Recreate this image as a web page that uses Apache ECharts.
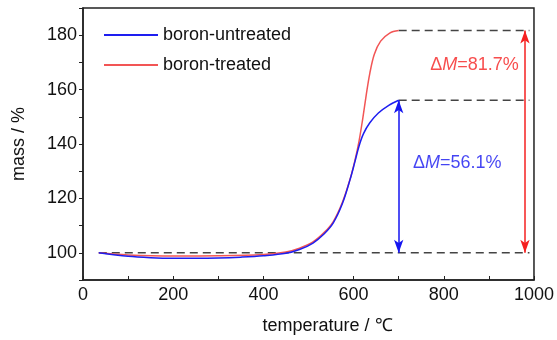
<!DOCTYPE html>
<html>
<head>
<meta charset="utf-8">
<script src="https://cdn.jsdelivr.net/npm/echarts@6/dist/echarts.min.js"></script>
<style>
  html, body { margin: 0; padding: 0; background: #fff; }
  #main { width: 557px; height: 340px; }
</style>
</head>
<body>
<div id="main"></div>
<script>
const untreatedT = [35, 100, 150, 200, 250, 300, 350, 400, 450, 480, 510, 535, 555, 575, 592, 603, 612, 622, 636, 655, 678, 700]
const untreatedM = [100, 98.7, 98.2, 98, 98, 98.1, 98.4, 98.9, 99.8, 101.2, 103.6, 107, 111, 118, 126.8, 133.5, 139.2, 143.8, 147.8, 151.4, 154.2, 156.1]
const treatedT = [35, 100, 200, 300, 400, 450, 480, 510, 535, 555, 575, 592, 603, 612, 620, 628, 636, 646, 660, 680, 700]
const treatedM = [100, 99.2, 98.8, 98.9, 99.4, 100.3, 101.7, 104, 107.5, 111.5, 118.5, 127, 134, 141, 149, 158, 166, 173, 177.8, 180.8, 181.7]

// dashed reference levels: [from T, to T, mass]
const dashLevels = [[35, 990, 100], [700, 990, 156.1], [700, 990, 181.7]]
// double arrows: [T, from mass, to mass]
const arrows = [[700, 100, 156.1, '#1515f0'], [980, 100, 181.7, '#f52020']]
// delta labels: [T, mass, value text]
const deltaLabels = [[830, 133, '56.1%', '#1515f0'], [868, 169, '81.7%', '#f52020']]

const BLUE = '#1e1ef0'
const RED = '#f25555'
const FONT = 'Liberation Sans'

const zip = (a, b) => a.map((v, i) => [v, b[i]])

const chart = echarts.init(document.getElementById('main'))

const option = {
  backgroundColor: '#fff',
  animation: false,
  textStyle: { fontFamily: FONT },
  grid: { left: 83, right: 20, top: 8, bottom: 60, show: true, borderColor: '#222', borderWidth: 1.5 },
  legend: {
    data: ['boron-untreated', 'boron-treated'],
    orient: 'vertical',
    left: 99,
    top: 21,
    icon: 'rect',
    itemWidth: 54,
    itemHeight: 2,
    itemGap: 12,
    textStyle: { fontSize: 18, color: '#111', fontFamily: FONT }
  },
  xAxis: {
    type: 'value',
    min: 0,
    max: 1000,
    interval: 200,
    name: 'temperature / ℃',
    nameLocation: 'middle',
    nameGap: 37,
    nameTextStyle: { fontSize: 18, color: '#111', padding: [0, 0, 0, 38] },
    axisLine: { lineStyle: { color: '#222', width: 1.5 } },
    axisTick: { inside: true, length: 4, lineStyle: { color: '#222' } },
    minorTick: { show: true, splitNumber: 2, length: 4, lineStyle: { color: '#222' } },
    axisLabel: { fontSize: 18, color: '#111', margin: 6, formatter: v => String(v) },
    splitLine: { show: false }
  },
  yAxis: {
    type: 'value',
    min: 90,
    max: 190,
    interval: 10,
    name: 'mass / %',
    nameLocation: 'middle',
    nameGap: 55,
    nameTextStyle: { fontSize: 18, color: '#111' },
    axisLine: { lineStyle: { color: '#222', width: 1.5 } },
    axisTick: { length: 4, lineStyle: { color: '#222' } },
    axisLabel: {
      fontSize: 18, color: '#111', margin: 6,
      formatter: v => (v >= 100 && v <= 180 && v % 20 === 0) ? String(v) : ''
    },
    splitLine: { show: false }
  },
  series: [
    ...dashLevels.map(d => ({
      type: 'line',
      data: [[d[0], d[2]], [d[1], d[2]]],
      symbol: 'none',
      silent: true,
      z: 1,
      lineStyle: { color: '#444', width: 1.5, type: [8, 5] }
    })),
    {
      name: 'boron-untreated',
      type: 'line',
      data: zip(untreatedT, untreatedM),
      smooth: 0.35,
      symbol: 'none',
      z: 3,
      color: BLUE,
      lineStyle: { width: 1.5, color: BLUE }
    },
    {
      name: 'boron-treated',
      type: 'line',
      data: zip(treatedT, treatedM),
      smooth: 0.35,
      symbol: 'none',
      z: 2,
      color: RED,
      lineStyle: { width: 1.5, color: RED }
    },
    ...arrows.map(a => ({
      type: 'line',
      data: [],
      silent: true,
      markLine: {
        silent: true,
        symbol: ['arrow', 'arrow'],
        symbolSize: [7, 13],
        label: { show: false },
        lineStyle: { color: a[3], width: 1.5, type: 'solid' },
        data: [[{ coord: [a[0], a[1]] }, { coord: [a[0], a[2]] }]]
      }
    })),
    ...deltaLabels.map(l => ({
      type: 'scatter',
      data: [[l[0], l[1]]],
      symbolSize: 0,
      silent: true,
      label: {
        show: true,
        position: 'inside',
        formatter: '{d|Δ}{m|M}{d|=' + l[2] + '}',
        rich: {
          d: { fontSize: 18, color: l[3], fontFamily: FONT },
          m: { fontSize: 18, color: l[3], fontFamily: FONT, fontStyle: 'italic' }
        }
      }
    }))
  ]
}

chart.setOption(option)
</script>
</body>
</html>
